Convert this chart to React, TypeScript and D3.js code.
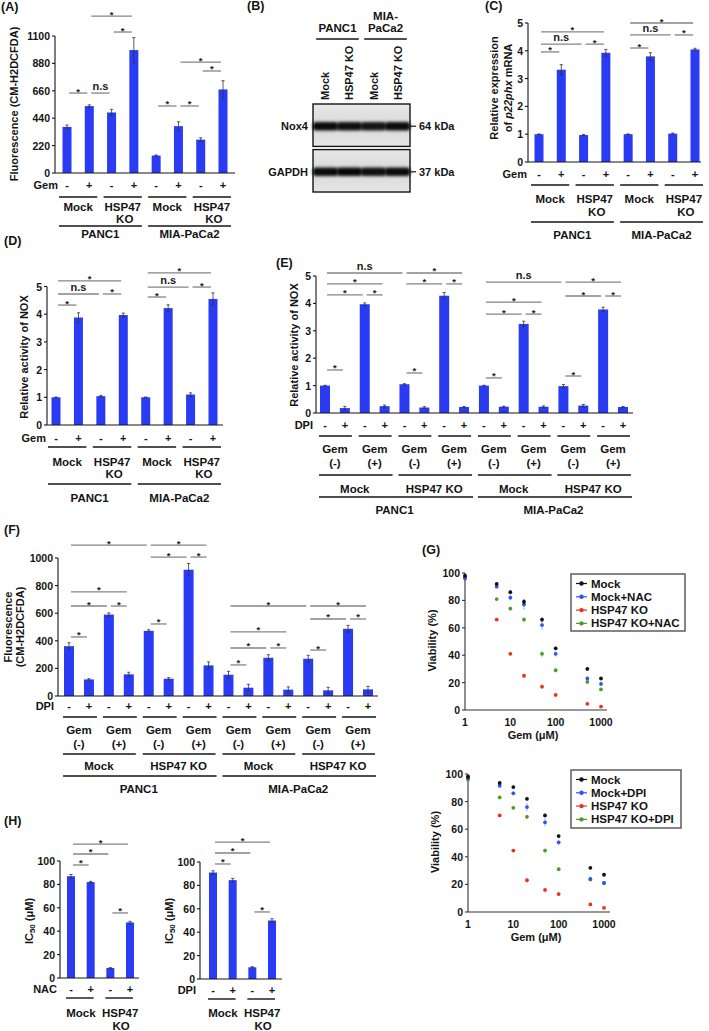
import React from "react";
import * as d3 from "d3";

const FONT = "'Liberation Sans', Arial, Helvetica, sans-serif";
const BAR = "#2a3bf4";
const INK = "#141414";
const BRACKET = "#858585";

type Sig = [number, number, string, number];
type Level = { size: number; labels: string[][]; lineY: number; labelY: number; padL: number; padR: number; gap?: number; sub?: number };

// ---------- shared categories ----------
const gemSigns = ["-", "+", "-", "+", "-", "+", "-", "+"];
const dpiSigns = ["-", "+", "-", "+", "-", "+", "-", "+", "-", "+", "-", "+", "-", "+", "-", "+"];
const hSigns = ["-", "+", "-", "+"];
const cloneNames = [["Mock"], ["HSP47", "KO"], ["Mock"], ["HSP47", "KO"]];
const cloneNamesWide = [["Mock"], ["HSP47 KO"], ["Mock"], ["HSP47 KO"]];
const gemStates = [["Gem", "(-)"], ["Gem", "(+)"], ["Gem", "(-)"], ["Gem", "(+)"], ["Gem", "(-)"], ["Gem", "(+)"], ["Gem", "(-)"], ["Gem", "(+)"]];
const cellLines = [["PANC1"], ["MIA-PaCa2"]];
const hClones = [["Mock"], ["HSP47", "KO"]];

// ---------- (A) ROS fluorescence ----------
const rosA = [370, 537, 486, 987, 140, 376, 268, 671];
const rosAErr = [15, 10, 25, 100, 4, 35, 15, 70];
const rosATicks = [0, 220, 440, 660, 880, 1100];
const rosASig: Sig[] = [[0, 1, "*", 642], [1, 2, "n.s", 642], [2, 3, "*", 1132], [1, 3, "*", 1260], [4, 5, "*", 538], [5, 6, "*", 538], [6, 7, "*", 819], [5, 7, "*", 891]];

// ---------- (B) western blot ----------
const blotLanes = ["Mock", "HSP47 KO", "Mock", "HSP47 KO"];
const blotCells = [["PANC1"], ["MIA-", "PaCa2"]];
const blotRows = ["Nox4", "GAPDH"];
const blotMarkers = ["64 kDa", "37 kDa"];
const nox4Bands = [0.95, 0.93, 0.9, 0.95];
const gapdhBands = [0.95, 0.96, 0.93, 0.95];

// ---------- (C) p22phx mRNA ----------
const p22C = [1.0, 3.32, 0.97, 3.93, 1.0, 3.8, 1.02, 4.05];
const p22CErr = [0.01, 0.18, 0.02, 0.12, 0.01, 0.13, 0.02, 0.04];
const unitTicks = [0, 1, 2, 3, 4, 5];
const p22CSig: Sig[] = [[0, 1, "*", 3.96], [0, 2, "n.s", 4.24], [2, 3, "*", 4.24], [0, 3, "*", 4.68], [4, 5, "*", 4.1], [4, 6, "n.s", 4.57], [6, 7, "*", 4.57], [4, 7, "*", 5.0]];

// ---------- (D) NOX activity ----------
const noxD = [1.0, 3.88, 1.04, 3.97, 1.0, 4.22, 1.1, 4.55];
const noxDErr = [0.01, 0.17, 0.03, 0.07, 0.01, 0.12, 0.06, 0.22];
const noxDSig: Sig[] = [[0, 1, "*", 4.33], [0, 2, "n.s", 4.73], [2, 3, "*", 4.73], [0, 3, "*", 5.2], [4, 5, "*", 4.62], [4, 6, "n.s", 4.98], [6, 7, "*", 4.98], [4, 7, "*", 5.49]];

// ---------- (E) NOX activity with DPI ----------
const noxE = [1.0, 0.18, 3.97, 0.25, 1.05, 0.2, 4.28, 0.22, 1.0, 0.23, 3.25, 0.23, 0.98, 0.27, 3.78, 0.22];
const noxEErr = [0.01, 0.06, 0.05, 0.04, 0.02, 0.03, 0.12, 0.02, 0.01, 0.02, 0.1, 0.03, 0.06, 0.04, 0.08, 0.02];
const noxESig: Sig[] = [
  [0, 1, "*", 1.57], [0, 2, "*", 4.31], [2, 3, "*", 4.31], [0, 3, "*", 4.71], [0, 4, "n.s", 5.11],
  [4, 5, "*", 1.46], [4, 6, "*", 4.71], [6, 7, "*", 4.71], [4, 7, "*", 5.11],
  [8, 9, "*", 1.28], [8, 10, "*", 3.61], [10, 11, "*", 3.61], [8, 11, "*", 4.05], [8, 12, "n.s", 4.78],
  [12, 13, "*", 1.35], [12, 14, "*", 4.27], [14, 15, "*", 4.27], [12, 15, "*", 4.78],
];

// ---------- (F) ROS with DPI ----------
const rosF = [361, 120, 590, 157, 472, 125, 915, 222, 154, 60, 277, 46, 270, 41, 487, 48];
const rosFErr = [25, 5, 12, 15, 8, 8, 45, 25, 25, 25, 22, 20, 25, 22, 25, 22];
const rosFTicks = [0, 200, 400, 600, 800, 1000];
const rosFSig: Sig[] = [
  [0, 1, "*", 428], [0, 2, "*", 652], [2, 3, "*", 652], [0, 3, "*", 754], [0, 4, "*", 1094],
  [4, 5, "*", 522], [4, 6, "*", 1007], [6, 7, "*", 1007], [4, 7, "*", 1094],
  [8, 9, "*", 225], [8, 10, "*", 348], [10, 11, "*", 348], [8, 11, "*", 464], [8, 12, "*", 652],
  [12, 13, "*", 333], [12, 14, "*", 558], [14, 15, "*", 558], [12, 15, "*", 652],
];

// ---------- (G) viability ----------
const gemDoses = [1, 5, 10, 20, 50, 100, 500, 1000];
const doseTicks = [1, 10, 100, 1000];
const viabTicks = [0, 20, 40, 60, 80, 100];
const viabColors = ["#111111", "#2f55f5", "#e8321e", "#4f9a2c"];
const nacNames = ["Mock", "Mock+NAC", "HSP47 KO", "HSP47 KO+NAC"];
const dpiNames = ["Mock", "Mock+DPI", "HSP47 KO", "HSP47 KO+DPI"];
const viabMock1 = [98, 92, 86, 79, 66, 45, 30, 23];
const viabMockNac = [96, 90, 82, 77, 62, 41, 23, 19];
const viabKo1 = [97, 66, 41, 25, 17, 11, 4.5, 2.5];
const viabKoNac = [97, 81, 74, 66, 41, 29, 20.5, 15];
const viabMock1Err = [1, 1, 1.5, 2, 2, 1.5, 1, 1];
const viabMockNacErr = [1.5, 1, 2, 4, 3.5, 2, 1.5, 1.5];
const viabKo1Err = [1, 1, 1, 1.5, 1.5, 1, 0.8, 0.5];
const viabKoNacErr = [1, 1, 1.5, 2, 2.5, 1.5, 1.5, 1];
const viabMock2 = [98, 93.5, 90.5, 82, 70, 55, 32, 27];
const viabMockDpi = [97, 91.5, 86, 76, 65, 50.5, 24, 21];
const viabKo2 = [98, 70, 44.5, 23, 16, 13, 5.5, 3];
const viabKoDpi = [96, 83, 75.5, 69, 44.5, 31, 23.5, 21];
const viabMock2Err = [1, 1, 1, 1.5, 1.5, 1.5, 1, 1];
const viabMockDpiErr = [1.5, 1, 1.5, 3, 3, 2, 1.5, 1.5];
const viabKo2Err = [1, 1, 1, 1.5, 1.5, 1.5, 1, 0.5];
const viabKoDpiErr = [1.5, 1, 1.5, 1.5, 1.5, 1.5, 1, 1];

// ---------- (H) IC50 ----------
const ic50Nac = [87, 82, 8.5, 47.5];
const ic50NacErr = [1.5, 0.6, 0.4, 1];
const ic50Dpi = [91, 84.5, 10, 50];
const ic50DpiErr = [1.5, 1.5, 0.5, 1.5];
const ic50Ticks = [0, 20, 40, 60, 80, 100];
const ic50NacSig: Sig[] = [[0, 1, "*", 96.6], [0, 2, "*", 106], [0, 3, "*", 114.5], [2, 3, "*", 55.6]];
const ic50DpiSig: Sig[] = [[0, 1, "*", 98.3], [0, 2, "*", 107.7], [0, 3, "*", 117], [2, 3, "*", 57.3]];

// ================= components =================
function BarPanel(p: {
  values: number[]; errors: number[]; yMax: number; ticks: number[];
  axisX: number; baseY: number; topY: number; x0: number; x1: number; axisEnd: number; barW: number;
  sigs: Sig[]; tickSize?: number;
}) {
  const n = p.values.length;
  const x = d3.scaleLinear().domain([0, n - 1]).range([p.x0, p.x1]);
  const y = d3.scaleLinear().domain([0, p.yMax]).range([p.baseY, p.topY]);
  const fs = p.tickSize ?? 10.5;
  return (
    <g>
      {p.values.map((v, i) => (
        <rect key={"b" + i} x={x(i) - p.barW / 2} y={y(v)} width={p.barW} height={y(0) - y(v)} fill={BAR} />
      ))}
      {p.values.map((v, i) => {
        const e = p.errors[i];
        const cx = x(i);
        return (
          <g key={"e" + i} stroke="#333" strokeWidth={0.8}>
            <line x1={cx} x2={cx} y1={y(v - e)} y2={y(v + e)} />
            <line x1={cx - 1.6} x2={cx + 1.6} y1={y(v + e)} y2={y(v + e)} />
            <line x1={cx - 1.6} x2={cx + 1.6} y1={y(v - e)} y2={y(v - e)} />
          </g>
        );
      })}
      <line x1={p.axisX} x2={p.axisX} y1={p.baseY} y2={y(p.ticks[p.ticks.length - 1])} stroke={INK} strokeWidth={1.1} />
      <line x1={p.axisX} x2={p.axisEnd} y1={p.baseY} y2={p.baseY} stroke={INK} strokeWidth={1.1} />
      {p.ticks.map((t) => (
        <g key={"t" + t}>
          <line x1={p.axisX - 3} x2={p.axisX} y1={y(t)} y2={y(t)} stroke={INK} strokeWidth={1.1} />
          <text x={p.axisX - 5} y={y(t)} textAnchor="end" dominantBaseline="central" fontSize={fs}>{t}</text>
        </g>
      ))}
      {p.sigs.map(([i, j, lab, lv], k) => {
        const yy = y(lv);
        const xa = x(i) + 2;
        const xb = x(j) - 2;
        return (
          <g key={"s" + k}>
            <line x1={xa} x2={xb} y1={yy} y2={yy} stroke={BRACKET} strokeWidth={1.3} />
            <text x={(xa + xb) / 2} y={lab === "*" ? yy + 1.5 : yy - 3} textAnchor="middle" fontSize={lab === "*" ? 9.5 : 11} fill="#222">{lab}</text>
          </g>
        );
      })}
    </g>
  );
}

function Rows(p: { n: number; x0: number; x1: number; treat: string; treatX: number; treatY: number; signs: string[]; levels: Level[]; fs?: number }) {
  const x = d3.scaleLinear().domain([0, p.n - 1]).range([p.x0, p.x1]);
  const fs = p.fs ?? 11.5;
  return (
    <g>
      <text x={p.treatX} y={p.treatY} textAnchor="end" dominantBaseline="central" fontSize={11}>{p.treat}</text>
      {p.signs.map((s, i) => (
        <text key={"sg" + i} x={x(i)} y={p.treatY} textAnchor="middle" dominantBaseline="central" fontSize={11}>{s}</text>
      ))}
      {p.levels.map((lv, li) => (
        <g key={"lv" + li}>
          {lv.labels.map((lab, g) => {
            const i0 = g * lv.size;
            const i1 = i0 + lv.size - 1;
            const cx = (x(i0) + x(i1)) / 2;
            return (
              <g key={"g" + g}>
                <line x1={x(i0) - lv.padL} x2={x(i1) + lv.padR} y1={lv.lineY} y2={lv.lineY} stroke={INK} strokeWidth={1.4} />
                {lab.map((t, k) => (
                  <text key={k} x={cx + (k > 0 ? lv.sub ?? 0 : 0)} y={lv.labelY + k * (lv.gap ?? 12)} textAnchor="middle" dominantBaseline="central" fontSize={fs}>{t}</text>
                ))}
              </g>
            );
          })}
        </g>
      ))}
    </g>
  );
}

function RotLabel(p: { x: number; y: number; children: React.ReactNode; fs?: number }) {
  return (
    <text transform={`translate(${p.x},${p.y}) rotate(-90)`} textAnchor="middle" dominantBaseline="central" fontSize={p.fs ?? 11}>{p.children}</text>
  );
}

function PanelTag(p: { x: number; y: number; t: string }) {
  return <text x={p.x} y={p.y} dominantBaseline="central" fontSize={12.5}>{p.t}</text>;
}

function Blot() {
  const lane = d3.scaleBand<number>().domain(d3.range(blotLanes.length)).range([313, 410]).paddingInner(0.06).paddingOuter(0.05);
  const row = d3.scaleBand<number>().domain(d3.range(blotRows.length)).range([104, 192]).paddingInner(0.07);
  const intens = [nox4Bands, gapdhBands];
  return (
    <g>
      <defs>
        <filter id="bandBlur" x="-20%" y="-100%" width="140%" height="300%">
          <feGaussianBlur stdDeviation="1.5" />
        </filter>
        <linearGradient id="blotBg" x1="0" y1="0" x2="0" y2="1">
          <stop offset="0" stopColor="#e8e8e8" />
          <stop offset="0.5" stopColor="#d8d8d8" />
          <stop offset="1" stopColor="#e6e6e6" />
        </linearGradient>
      </defs>
      {blotCells.map((lab, g) => {
        const xa = (lane(g * 2) ?? 0) + 2;
        const xb = (lane(g * 2 + 1) ?? 0) + lane.bandwidth() - 2;
        return (
          <g key={"c" + g}>
            <line x1={xa} x2={xb} y1={39} y2={39} stroke={INK} strokeWidth={1.4} />
            {lab.map((t, k) => (
              <text key={k} x={(xa + xb) / 2} y={28 - (lab.length - 1 - k) * 12} textAnchor="middle" dominantBaseline="central" fontSize={11.5}>{t}</text>
            ))}
          </g>
        );
      })}
      {blotLanes.map((t, i) => {
        const cx = (lane(i) ?? 0) + lane.bandwidth() / 2;
        return (
          <text key={"l" + i} transform={`translate(${cx},100) rotate(-90)`} textAnchor="start" dominantBaseline="central" fontSize={11}>{t}</text>
        );
      })}
      {blotRows.map((name, r) => {
        const y0 = row(r) ?? 0;
        const cy = y0 + row.bandwidth() / 2 + 1;
        return (
          <g key={"r" + r}>
            <rect x={313} y={y0} width={97} height={row.bandwidth()} fill="url(#blotBg)" stroke={INK} strokeWidth={1.4} />
            {intens[r].map((a, i) => (
              <rect key={i} x={(lane(i) ?? 0) - 1.5} y={cy - 4.2} width={lane.bandwidth() + 3} height={8.4} rx={3.5} fill="#000" opacity={a} filter="url(#bandBlur)" />
            ))}
            <text x={308} y={cy} textAnchor="end" dominantBaseline="central" fontSize={11}>{name}</text>
            <line x1={411} x2={416} y1={cy} y2={cy} stroke={INK} strokeWidth={1.2} />
            <text x={419} y={cy} dominantBaseline="central" fontSize={11}>{blotMarkers[r]}</text>
          </g>
        );
      })}
    </g>
  );
}

function Viability(p: {
  series: number[][]; errs: number[][]; names: string[];
  xr: [number, number]; yr: [number, number]; box: [number, number, number, number];
}) {
  const x = d3.scaleLog().domain([1, 1000]).range(p.xr);
  const y = d3.scaleLinear().domain([0, 100]).range(p.yr);
  const order = [3, 2, 1, 0];
  const [bx, by, bw, bh] = p.box;
  return (
    <g>
      <line x1={p.xr[0]} x2={p.xr[0]} y1={p.yr[0]} y2={p.yr[1]} stroke="#333" strokeWidth={1.1} />
      <line x1={p.xr[0]} x2={p.xr[1] + 6} y1={p.yr[0]} y2={p.yr[0]} stroke="#333" strokeWidth={1.1} />
      {viabTicks.map((t) => (
        <g key={"yt" + t}>
          <line x1={p.xr[0] - 3} x2={p.xr[0]} y1={y(t)} y2={y(t)} stroke="#333" strokeWidth={1.1} />
          <text x={p.xr[0] - 5} y={y(t)} textAnchor="end" dominantBaseline="central" fontSize={10.5}>{t}</text>
        </g>
      ))}
      {doseTicks.map((t) => (
        <text key={"xt" + t} x={x(t)} y={p.yr[0] + 12} textAnchor="middle" dominantBaseline="central" fontSize={10.5}>{t}</text>
      ))}
      <text x={(p.xr[0] + p.xr[1]) / 2} y={p.yr[0] + 25} textAnchor="middle" dominantBaseline="central" fontSize={11}>Gem (μM)</text>
      <RotLabel x={p.xr[0] - 33} y={(p.yr[0] + p.yr[1]) / 2 - 1}>Viability (%)</RotLabel>
      {order.map((s) => (
        <g key={"s" + s}>
          {gemDoses.map((d, i) => {
            const v = p.series[s][i];
            const e = p.errs[s][i];
            return (
              <g key={i}>
                <line x1={x(d)} x2={x(d)} y1={y(v - e)} y2={y(v + e)} stroke={viabColors[s]} strokeOpacity={0.45} strokeWidth={1} />
                <circle cx={x(d)} cy={y(v)} r={1.9} fill={viabColors[s]} />
              </g>
            );
          })}
        </g>
      ))}
      <rect x={bx} y={by} width={bw} height={bh} fill="#fff" stroke="#444" strokeWidth={1.3} />
      {p.names.map((nm, k) => {
        const yy = by + 9.5 + k * 13.3;
        return (
          <g key={"lg" + k}>
            <line x1={bx + 5} x2={bx + 16} y1={yy} y2={yy} stroke={viabColors[k]} strokeWidth={1.2} />
            <circle cx={bx + 10.5} cy={yy} r={2.2} fill={viabColors[k]} />
            <text x={bx + 20} y={yy} dominantBaseline="central" fontSize={11.5}>{nm}</text>
          </g>
        );
      })}
    </g>
  );
}

function IC50Label(p: { x: number; y: number }) {
  return (
    <text transform={`translate(${p.x},${p.y}) rotate(-90)`} textAnchor="middle" dominantBaseline="central" fontSize={11}>
      IC<tspan fontSize={8} dy={3}>50</tspan><tspan dy={-3}> (μM)</tspan>
    </text>
  );
}

export default function App() {
  return (
    <svg width={709} height={1031} viewBox="0 0 709 1031" style={{ position: "absolute", left: 0, top: 0, background: "#fff" }} fontFamily={FONT} fontWeight="bold" fill={INK}>
      <rect x={0} y={0} width={709} height={1031} fill="#fff" />
      {/* (A) */}
      <PanelTag x={1} y={7} t="(A)" />
      <RotLabel x={14} y={104}>Fluorescence (CM-H2DCFDA)</RotLabel>
      <BarPanel values={rosA} errors={rosAErr} yMax={1100} ticks={rosATicks} axisX={55} baseY={173} topY={36} x0={67} x1={223} axisEnd={235} barW={9} sigs={rosASig} />
      <Rows n={8} x0={67} x1={223} treat="Gem" treatX={58} treatY={185} signs={gemSigns}
        levels={[
          { size: 2, labels: cloneNames, lineY: 197, labelY: 207, padL: 8, padR: 8, gap: 11.5, sub: 2 },
          { size: 4, labels: cellLines, lineY: 226, labelY: 234, padL: 8, padR: 8 },
        ]} />

      {/* (B) */}
      <PanelTag x={247} y={6} t="(B)" />
      <Blot />

      {/* (C) */}
      <PanelTag x={485} y={6} t="(C)" />
      <text transform="translate(494,88) rotate(-90)" textAnchor="middle" dominantBaseline="central" fontSize={11}>Relative expression</text>
      <text transform="translate(508,88) rotate(-90)" textAnchor="middle" dominantBaseline="central" fontSize={11}>of <tspan fontStyle="italic">p22phx</tspan> mRNA</text>
      <BarPanel values={p22C} errors={p22CErr} yMax={5} ticks={unitTicks} axisX={528} baseY={162} topY={23} x0={539} x1={695} axisEnd={701} barW={9} sigs={p22CSig} />
      <Rows n={8} x0={539} x1={695} treat="Gem" treatX={527} treatY={174} signs={gemSigns}
        levels={[
          { size: 2, labels: cloneNames, lineY: 185, labelY: 199, padL: 8, padR: 8, gap: 13, sub: 2 },
          { size: 4, labels: cellLines, lineY: 222, labelY: 235, padL: 8, padR: 8 },
        ]} />

      {/* (D) */}
      <PanelTag x={4} y={241} t="(D)" />
      <RotLabel x={24} y={357}>Relative activity of NOX</RotLabel>
      <BarPanel values={noxD} errors={noxDErr} yMax={5} ticks={unitTicks} axisX={47} baseY={425} topY={286.5} x0={56} x1={213} axisEnd={223} barW={9} sigs={noxDSig} />
      <Rows n={8} x0={56} x1={213} treat="Gem" treatX={46} treatY={438} signs={gemSigns}
        levels={[
          { size: 2, labels: cloneNames, lineY: 447, labelY: 462, padL: 8, padR: 8, gap: 12, sub: 2 },
          { size: 4, labels: cellLines, lineY: 484, labelY: 498, padL: 8, padR: 8 },
        ]} />

      {/* (E) */}
      <PanelTag x={276} y={263} t="(E)" />
      <RotLabel x={294} y={345}>Relative activity of NOX</RotLabel>
      <BarPanel values={noxE} errors={noxEErr} yMax={5} ticks={unitTicks} axisX={316} baseY={413} topY={276} x0={325} x1={623} axisEnd={633} barW={10} sigs={noxESig} />
      <Rows n={16} x0={325} x1={623} treat="DPI" treatX={313} treatY={425} signs={dpiSigns}
        levels={[
          { size: 2, labels: gemStates, lineY: 436, labelY: 449, padL: 6, padR: 7, gap: 14 },
          { size: 4, labels: cloneNamesWide, lineY: 475, labelY: 489, padL: 6, padR: 8 },
          { size: 8, labels: cellLines, lineY: 497, labelY: 510, padL: 6, padR: 9 },
        ]} />

      {/* (F) */}
      <PanelTag x={4} y={530} t="(F)" />
      <RotLabel x={8} y={627}>Fluorescence</RotLabel>
      <RotLabel x={20} y={627}>(CM-H2DCFDA)</RotLabel>
      <BarPanel values={rosF} errors={rosFErr} yMax={1000} ticks={rosFTicks} axisX={58} baseY={696} topY={558} x0={69} x1={368} axisEnd={378} barW={10} sigs={rosFSig} />
      <Rows n={16} x0={69} x1={368} treat="DPI" treatX={54} treatY={706} signs={dpiSigns}
        levels={[
          { size: 2, labels: gemStates, lineY: 717, labelY: 730, padL: 6, padR: 8, gap: 14 },
          { size: 4, labels: cloneNamesWide, lineY: 754, labelY: 766, padL: 6, padR: 7 },
          { size: 8, labels: cellLines, lineY: 776, labelY: 789, padL: 6, padR: 8 },
        ]} />

      {/* (G) */}
      <PanelTag x={422} y={550} t="(G)" />
      <Viability series={[viabMock1, viabMockNac, viabKo1, viabKoNac]} errs={[viabMock1Err, viabMockNacErr, viabKo1Err, viabKoNacErr]} names={nacNames}
        xr={[465, 601]} yr={[710, 573]} box={[571, 574, 114, 57]} />
      <Viability series={[viabMock2, viabMockDpi, viabKo2, viabKoDpi]} errs={[viabMock2Err, viabMockDpiErr, viabKo2Err, viabKoDpiErr]} names={dpiNames}
        xr={[468, 604]} yr={[912, 774]} box={[571, 770, 110, 58]} />

      {/* (H) */}
      <PanelTag x={4} y={821} t="(H)" />
      <IC50Label x={29} y={921} />
      <BarPanel values={ic50Nac} errors={ic50NacErr} yMax={100} ticks={ic50Ticks} axisX={60} baseY={978} topY={861} x0={71} x1={130} axisEnd={139} barW={8} sigs={ic50NacSig} />
      <Rows n={4} x0={71} x1={130} treat="NAC" treatX={57} treatY={989} signs={hSigns}
        levels={[{ size: 2, labels: hClones, lineY: 998, labelY: 1013, padL: 5, padR: 3, gap: 13, sub: 1 }]} />
      <IC50Label x={169} y={921} />
      <BarPanel values={ic50Dpi} errors={ic50DpiErr} yMax={100} ticks={ic50Ticks} axisX={200} baseY={979} topY={862} x0={213} x1={272} axisEnd={282} barW={8} sigs={ic50DpiSig} />
      <Rows n={4} x0={213} x1={272} treat="DPI" treatX={196} treatY={990} signs={hSigns}
        levels={[{ size: 2, labels: hClones, lineY: 999, labelY: 1013, padL: 5, padR: 3, gap: 13, sub: 1 }]} />
    </svg>
  );
}
